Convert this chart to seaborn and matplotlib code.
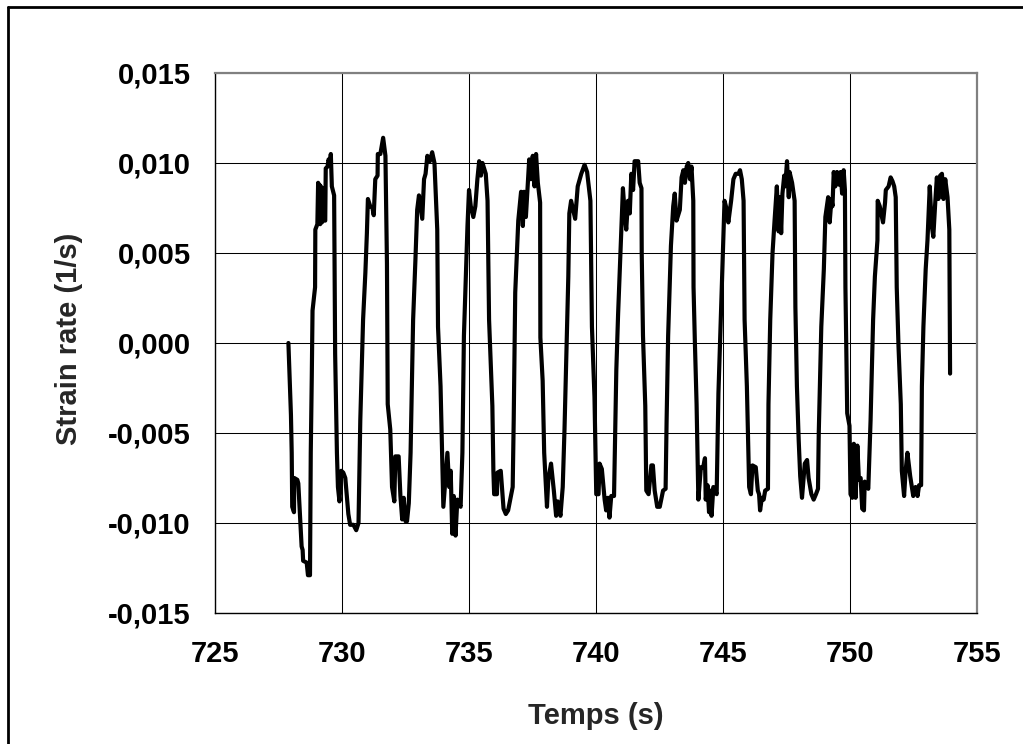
import matplotlib
matplotlib.use("Agg")
import matplotlib.pyplot as plt
from matplotlib.lines import Line2D
from matplotlib.ticker import FixedLocator, FuncFormatter
import seaborn as sns
import pandas as pd

# ---- data ----
time_s = [
    727.89, 727.99, 728.02, 728.04, 728.11, 728.12, 728.24, 728.28, 728.41, 728.45,
    728.47, 728.61, 728.66, 728.74, 728.77, 728.81, 728.84, 728.94, 728.95, 729.03,
    729.06, 729.09, 729.11, 729.14, 729.17, 729.21, 729.25, 729.30, 729.34, 729.36,
    729.43, 729.47, 729.52, 729.56, 729.60, 729.69, 729.73, 729.80, 729.84, 729.90,
    729.97, 730.05, 730.13, 730.25, 730.32, 730.45, 730.56, 730.65, 730.72, 730.83,
    730.92, 730.98, 731.02, 731.11, 731.20, 731.25, 731.31, 731.40, 731.41, 731.51,
    731.62, 731.71, 731.77, 731.80, 731.90, 731.97, 732.06, 732.10, 732.23, 732.30,
    732.37, 732.43, 732.50, 732.56, 732.63, 732.70, 732.80, 732.89, 732.96, 733.03,
    733.16, 733.23, 733.29, 733.36, 733.46, 733.55, 733.64, 733.75, 733.78, 733.88,
    733.99, 734.15, 734.22, 734.28, 734.34, 734.40, 734.47, 734.54, 734.67, 734.74,
    734.80, 734.94, 735.00, 735.07, 735.17, 735.25, 735.33, 735.40, 735.47, 735.53,
    735.66, 735.73, 735.79, 735.92, 735.96, 735.99, 736.10, 736.12, 736.25, 736.36,
    736.45, 736.54, 736.72, 736.76, 736.82, 736.94, 737.05, 737.12, 737.17, 737.24,
    737.31, 737.37, 737.44, 737.51, 737.58, 737.64, 737.71, 737.80, 737.81, 737.90,
    737.96, 738.07, 738.12, 738.23, 738.34, 738.43, 738.49, 738.60, 738.69, 738.76,
    738.86, 738.91, 738.95, 739.02, 739.18, 739.28, 739.42, 739.55, 739.65, 739.78,
    739.84, 739.94, 740.01, 740.10, 740.14, 740.23, 740.34, 740.40, 740.47, 740.53,
    740.60, 740.71, 740.80, 740.87, 741.00, 741.06, 741.13, 741.19, 741.26, 741.33,
    741.39, 741.46, 741.52, 741.66, 741.72, 741.79, 741.80, 741.85, 741.94, 741.98,
    742.07, 742.18, 742.24, 742.31, 742.41, 742.51, 742.64, 742.74, 742.78, 742.84,
    742.95, 743.04, 743.10, 743.17, 743.30, 743.37, 743.44, 743.50, 743.57, 743.63,
    743.70, 743.76, 743.83, 743.84, 743.89, 743.96, 744.03, 744.13, 744.22, 744.29,
    744.32, 744.39, 744.45, 744.50, 744.55, 744.62, 744.75, 744.82, 744.95, 745.06,
    745.15, 745.21, 745.32, 745.41, 745.50, 745.61, 745.67, 745.74, 745.81, 745.85,
    745.94, 746.03, 746.10, 746.16, 746.29, 746.37, 746.42, 746.46, 746.53, 746.60,
    746.66, 746.77, 746.79, 746.86, 746.95, 747.03, 747.12, 747.19, 747.24, 747.29,
    747.34, 747.41, 747.45, 747.52, 747.59, 747.62, 747.72, 747.82, 747.85, 747.91,
    747.98, 748.04, 748.11, 748.22, 748.31, 748.37, 748.48, 748.57, 748.66, 748.74,
    748.77, 748.87, 748.97, 749.03, 749.14, 749.20, 749.27, 749.31, 749.36, 749.42,
    749.49, 749.56, 749.63, 749.69, 749.75, 749.80, 749.82, 749.89, 749.98, 750.02,
    750.09, 750.15, 750.22, 750.29, 750.35, 750.42, 750.48, 750.55, 750.58, 750.65,
    750.72, 750.81, 750.91, 750.98, 751.08, 751.09, 751.17, 751.30, 751.38, 751.41,
    751.52, 751.60, 751.67, 751.74, 751.80, 751.84, 751.91, 752.00, 752.04, 752.13,
    752.19, 752.26, 752.37, 752.49, 752.58, 752.66, 752.72, 752.80, 752.83, 752.89,
    752.98, 753.05, 753.14, 753.22, 753.28, 753.36, 753.42, 753.48, 753.55, 753.62,
    753.68, 753.75, 753.84, 753.91, 753.93, 753.94,
]

strain_rate = [
    0.0000, -0.0040, -0.0061, -0.0091, -0.0094, -0.0075, -0.0076, -0.0078, -0.0113, -0.0115,
    -0.0121, -0.0122, -0.0129, -0.0129, -0.0061, -0.0019, 0.0018, 0.0031, 0.0063, 0.0066,
    0.0089, 0.0068, 0.0088, 0.0066, 0.0087, 0.0067, 0.0086, 0.0068, 0.0068, 0.0097,
    0.0098, 0.0102, 0.0100, 0.0105, 0.0087, 0.0082, -0.0006, -0.0061, -0.0080, -0.0088,
    -0.0071, -0.0072, -0.0075, -0.0095, -0.0101, -0.0101, -0.0104, -0.0100, -0.0043, 0.0013,
    0.0039, 0.0061, 0.0080, 0.0076, 0.0075, 0.0071, 0.0091, 0.0093, 0.0105, 0.0105,
    0.0114, 0.0104, 0.0044, -0.0034, -0.0048, -0.0080, -0.0088, -0.0063, -0.0063, -0.0085,
    -0.0098, -0.0086, -0.0099, -0.0099, -0.0089, -0.0061, 0.0013, 0.0046, 0.0074, 0.0082,
    0.0069, 0.0091, 0.0094, 0.0104, 0.0101, 0.0106, 0.0100, 0.0063, 0.0009, -0.0024,
    -0.0091, -0.0061, -0.0080, -0.0071, -0.0106, -0.0085, -0.0107, -0.0087, -0.0091, -0.0061,
    0.0004, 0.0065, 0.0085, 0.0076, 0.0070, 0.0076, 0.0091, 0.0101, 0.0093, 0.0100,
    0.0094, 0.0079, 0.0013, -0.0035, -0.0071, -0.0084, -0.0084, -0.0072, -0.0071, -0.0092,
    -0.0095, -0.0093, -0.0080, -0.0043, 0.0028, 0.0068, 0.0084, 0.0065, 0.0084, 0.0070,
    0.0087, 0.0102, 0.0091, 0.0104, 0.0087, 0.0105, 0.0089, 0.0078, 0.0003, -0.0021,
    -0.0061, -0.0091, -0.0076, -0.0067, -0.0082, -0.0096, -0.0088, -0.0096, -0.0080, -0.0048,
    0.0009, 0.0037, 0.0072, 0.0079, 0.0069, 0.0087, 0.0094, 0.0099, 0.0095, 0.0079,
    0.0009, -0.0030, -0.0084, -0.0084, -0.0067, -0.0070, -0.0087, -0.0093, -0.0086, -0.0097,
    -0.0085, -0.0085, -0.0015, 0.0016, 0.0065, 0.0086, 0.0072, 0.0063, 0.0079, 0.0072,
    0.0094, 0.0085, 0.0101, 0.0101, 0.0089, 0.0086, 0.0050, 0.0004, -0.0035, -0.0082,
    -0.0084, -0.0068, -0.0068, -0.0082, -0.0091, -0.0091, -0.0082, -0.0081, -0.0043, 0.0004,
    0.0054, 0.0076, 0.0083, 0.0068, 0.0074, 0.0092, 0.0096, 0.0089, 0.0098, 0.0100,
    0.0091, 0.0098, 0.0079, 0.0031, 0.0002, -0.0034, -0.0087, -0.0069, -0.0069, -0.0064,
    -0.0087, -0.0079, -0.0094, -0.0082, -0.0096, -0.0080, -0.0084, -0.0028, 0.0031, 0.0079,
    0.0074, 0.0067, 0.0079, 0.0091, 0.0094, 0.0094, 0.0096, 0.0091, 0.0079, 0.0013,
    -0.0024, -0.0080, -0.0084, -0.0068, -0.0069, -0.0082, -0.0084, -0.0093, -0.0086, -0.0087,
    -0.0082, -0.0081, -0.0034, 0.0013, 0.0050, 0.0068, 0.0087, 0.0062, 0.0081, 0.0061,
    0.0083, 0.0093, 0.0087, 0.0101, 0.0081, 0.0095, 0.0089, 0.0079, 0.0020, -0.0024,
    -0.0054, -0.0074, -0.0086, -0.0067, -0.0065, -0.0075, -0.0084, -0.0087, -0.0084, -0.0081,
    -0.0050, 0.0009, 0.0041, 0.0070, 0.0081, 0.0067, 0.0080, 0.0076, 0.0095, 0.0087,
    0.0095, 0.0088, 0.0095, 0.0083, 0.0096, 0.0085, 0.0031, -0.0039, -0.0046, -0.0084,
    -0.0086, -0.0056, -0.0086, -0.0057, -0.0076, -0.0075, -0.0092, -0.0093, -0.0077, -0.0079,
    -0.0081, -0.0043, 0.0013, 0.0037, 0.0057, 0.0079, 0.0076, 0.0067, 0.0078, 0.0085,
    0.0087, 0.0092, 0.0090, 0.0087, 0.0081, 0.0031, -0.0002, -0.0034, -0.0071, -0.0085,
    -0.0071, -0.0061, -0.0074, -0.0085, -0.0080, -0.0085, -0.0079, -0.0079, -0.0024, 0.0009,
    0.0041, 0.0057, 0.0087, 0.0065, 0.0059, 0.0079, 0.0092, 0.0080, 0.0093, 0.0094,
    0.0080, 0.0091, 0.0081, 0.0063, 0.0013, -0.0017,
]

x_ticks = [725, 730, 735, 740, 745, 750, 755]
y_ticks = [-0.015, -0.010, -0.005, 0.000, 0.005, 0.010, 0.015]
x_label = "Temps (s)"
y_label = "Strain rate (1/s)"

# ---- style ----
sns.set_style("white")
plt.rcParams["font.family"] = ["Liberation Sans", "DejaVu Sans"]
plt.rcParams["font.weight"] = "bold"

df = pd.DataFrame({"t": time_s, "rate": strain_rate})

fig = plt.figure(figsize=(10.23, 7.44), dpi=100)
ax = fig.add_axes([215 / 1023, 1 - 613 / 744, 762 / 1023, 540 / 744])

sns.lineplot(data=df, x="t", y="rate", ax=ax, sort=False, estimator=None,
             color="black", linewidth=3.0, zorder=3)

ax.set_xlim(725, 755)
ax.set_ylim(-0.015, 0.015)
ax.xaxis.set_major_locator(FixedLocator(x_ticks))
ax.yaxis.set_major_locator(FixedLocator(y_ticks))
ax.yaxis.set_major_formatter(FuncFormatter(lambda v, p: f"{v:.3f}".replace(".", ",").replace("-0,000", "0,000")))
ax.xaxis.set_major_formatter(FuncFormatter(lambda v, p: f"{v:.0f}"))

ax.grid(True, color="black", linewidth=0.75, zorder=1)
ax.set_axisbelow(True)

for side in ["left", "bottom"]:
    ax.spines[side].set_color("black")
    ax.spines[side].set_linewidth(1.0)
for side in ["top", "right"]:
    ax.spines[side].set_color("#808080")
    ax.spines[side].set_linewidth(1.6)

ax.tick_params(axis="both", direction="out", length=6.5, width=0.8, color="black",
               labelsize=21, labelcolor="black")
ax.tick_params(axis="x", pad=13)
ax.tick_params(axis="y", pad=11)
for lab in ax.get_xticklabels() + ax.get_yticklabels():
    lab.set_fontweight("bold")

ax.set_xlabel("")
ax.set_ylabel("")
fig.text(596 / 1023, 1 - 716 / 744, x_label, ha="center", va="center",
         fontsize=21, fontweight="bold")
fig.text(69 / 1023, 1 - 339 / 744, y_label, ha="center", va="center",
         rotation=90, fontsize=21, fontweight="bold")

# outer chart frame (only top and left edges visible in the reference)
fig.add_artist(Line2D([8 / 1023, 1.0], [1 - 7 / 744, 1 - 7 / 744],
                      transform=fig.transFigure, color="black", linewidth=2.0))
fig.add_artist(Line2D([8 / 1023, 8 / 1023], [0.0, 1 - 7 / 744],
                      transform=fig.transFigure, color="black", linewidth=2.0))

fig.savefig("out.png", dpi=100)
